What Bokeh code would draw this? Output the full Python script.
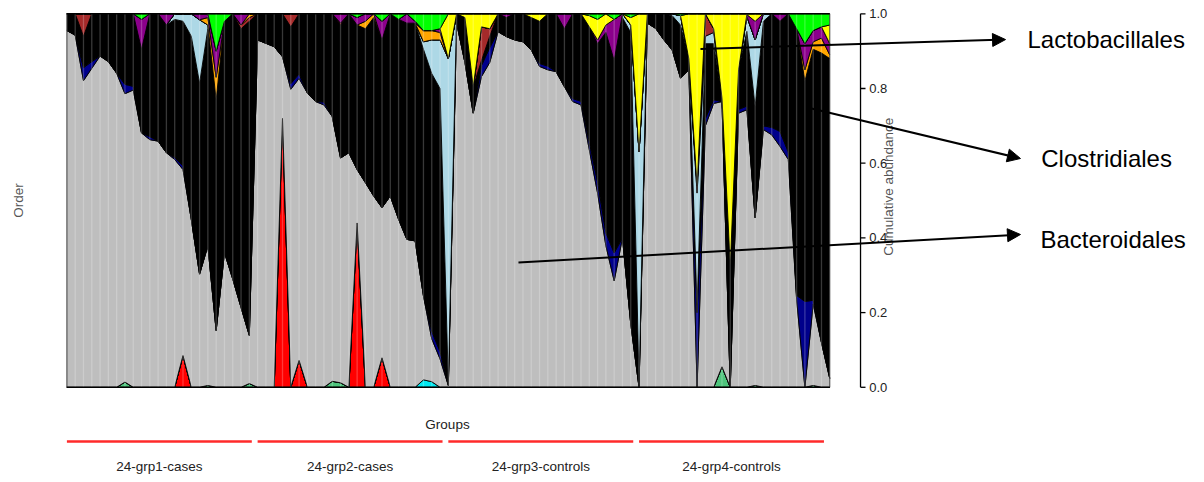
import numpy as np
from bokeh.plotting import figure
from bokeh.models import Range1d, Arrow, NormalHead
from bokeh.core.properties import value
from bokeh.embed import file_html
from bokeh.resources import INLINE

N = 93
samples = np.arange(N)
group_names = ["24-grp1-cases", "24-grp2-cases", "24-grp3-controls", "24-grp4-controls"]
group_sizes = [23, 23, 23, 24]
y_ticks = [0.0, 0.2, 0.4, 0.6, 0.8, 1.0]
y_tick_labels = ["0.0", "0.2", "0.4", "0.6", "0.8", "1.0"]
callouts = ["Lactobacillales", "Clostridiales", "Bacteroidales"]

# relative abundance per sample, by order (sparse: sample index -> value)
other_red = {14: .085, 26: .72, 28: .072, 35: .44, 38: .079}
other_seagreen = {7: .014, 17: .005, 22: .01, 32: .016, 33: .012, 79: .055, 83: .005, 90: .005}
other_cyan = {43: .02, 44: .015}
bacteroidales = [
    .955, .943, .821, .854, .887, .872, .841, .772, .796, .681,
    .663, .659, .628, .61, .498, .45, .303, .374, .152, .361,
    .29, .214, .129, .93, .921, .912, .165, .798, .755, .788,
    .765, .756, .709, .602, .628, .143, .548, .512, .402, .512,
    .45, .396, .392, .225, .115, .076, .005, .975, .87, .734,
    .832, .87, .952, .939, .93, .925, .903, .859, .85, .845,
    .805, .765, .756, .636, .52, .379, .285, .40, .17, 0.0,
    .975, .961, .93, .903, .828, .85, 0.0, .70, .76, .71,
    0.0, .734, .743, .449, .69, .676, .645, .61, .236, 0.0,
    .218, .12, .024]
other_blue = {2: .035, 3: .018, 7: .025, 8: .01, 10: .008, 13: .005, 14: .01,
              27: .015, 28: .012, 31: .008, 44: .02, 45: .02, 50: .03, 51: .04,
              57: .008, 58: .01, 61: .008, 62: .01, 63: .02, 64: .03, 65: .035,
              66: .075, 76: .2, 77: .02, 78: .01, 81: .01, 82: .01, 84: .01,
              85: .02, 86: .04, 87: .02, 88: .01, 89: .23, 90: .01}
clostridiales = [
    .045, .057, .084, .128, .113, .128, .159, .189, .194, .224,
    .329, .341, .342, .37, .387, .49, .511, .581, .618, .619,
    .71, .746, .841, .07, .079, .088, .115, .152, .161, .212,
    .235, .236, .275, .356, .372, .387, .412, .478, .449, .488,
    .535, .579, .583, .66, .69, .704, .01, .025, .12, .07,
    .013, .03, .048, .051, .07, .075, .087, .113, .14, .155,
    .155, .227, .234, .309, .37, .536, .515, .59, .78, .02,
    .025, .039, .07, .092, .142, .03, .02, .2, .15, .01,
    .325, .106, .2, .298, .28, .304, .295, .37, .714, .59,
    .672, .775, .856]
other_lightblue = {13: .015, 14: .02, 15: .06, 16: .17, 17: .01, 43: .02, 44: .09,
                   45: .13, 46: .865, 67: .01, 68: .02, 69: .61, 73: .005, 74: .025,
                   76: .3, 77: .02, 78: .03, 82: .04, 83: .178, 84: .02}
other_brown = {2: .06, 21: .01, 22: .01, 27: .035, 33: .005, 50: .09, 51: .02,
               76: .02, 77: .06, 78: .01}
other_orange = {17: .02, 18: .06, 22: .01, 36: .02, 37: .01, 43: .03, 44: .025,
                45: .02, 89: .03, 90: .02, 91: .04, 92: .01}
other_purple = {9: .08, 12: .03, 16: .016, 17: .01, 18: .07, 21: .03, 33: .025,
                35: .02, 36: .02, 38: .05, 41: .025, 42: .005, 45: .01, 53: .01,
                60: .04, 64: .01, 65: .02, 66: .11, 82: .005, 83: .05, 86: .02,
                89: .07, 90: .03, 91: .03, 92: .03}
lactobacillales = {46: .12, 48: .01, 49: .196, 50: .035, 51: .04, 56: .01, 57: .02,
                   63: .03, 64: .055, 65: .03, 68: .02, 69: .37, 75: .12, 76: .46,
                   78: .04, 79: .225, 80: .675, 81: .15, 82: .002, 83: .02, 92: .05}
other_green = {9: .015, 18: .10, 19: .02, 35: .01, 38: .02, 40: .015, 42: .02,
               43: .045, 44: .045, 45: .04, 63: .005, 64: .015, 66: .015, 68: .01,
               74: .005, 88: .04, 89: .08, 90: .045, 91: .035, 92: .03}


def dense(v):
    if isinstance(v, dict):
        out = np.zeros(N)
        for k, val in v.items():
            out[k] = val
        return out
    return np.asarray(v, dtype=float)


layers = [
    (other_red, "#FF0000"),
    (other_seagreen, "#4EC47C"),
    (other_cyan, "#00E8F0"),
    (bacteroidales, "#BEBEBE"),
    (other_blue, "#00008B"),
    (clostridiales, "#000000"),
    (other_lightblue, "#ADD8E6"),
    (other_brown, "#A52A2A"),
    (other_orange, "#FFA500"),
    (other_purple, "#8B008B"),
    (lactobacillales, "#FFFF00"),
    (other_green, "#00FF00"),
]

p = figure(width=1200, height=478,
           x_range=Range1d(-8.008, 136.71), y_range=Range1d(-0.2442, 1.0356),
           output_backend="svg", toolbar_location=None, min_border=0,
           x_axis_location=None, y_axis_location=None, outline_line_color=None)
p.grid.visible = False
p.background_fill_color = "white"

xs_fwd = list(samples)
xs_poly = xs_fwd + xs_fwd[::-1]
bottom = np.zeros(N)
for vals, col in layers:
    top = bottom + dense(vals)
    p.patch(xs_poly, list(top) + list(bottom[::-1]), fill_color=col,
            line_color="black", line_width=0.9)
    bottom = top

# faint per-sample separators
p.segment(x0=samples, y0=0, x1=samples, y1=1, line_color="white",
          line_alpha=0.22, line_width=1.3)
p.line([0, N - 1], [1, 1], line_color="black", line_width=1.6)
p.line([0, N - 1], [0, 0], line_color="black", line_width=1.4)

# right axis (R style, detached)
FONT = value("Liberation Sans")
ax_x = 95.71
p.segment(x0=[ax_x], y0=[0], x1=[ax_x], y1=[1], line_color="black", line_width=1.3)
p.segment(x0=[ax_x] * 6, y0=y_ticks, x1=[ax_x + 0.6] * 6, y1=y_ticks,
          line_color="black", line_width=1.3)
p.text(x=[ax_x + 1.05] * 6, y=y_ticks, text=y_tick_labels, text_font=FONT,
       text_font_size="13px", text_align="left", text_baseline="middle",
       text_color="#222222")
p.text(x=[99.1], y=[0.537], text=["Cumulative abundance"], angle=np.pi / 2,
       text_font=FONT, text_font_size="13.5px", text_align="center",
       text_baseline="middle", text_color="#555555")
p.text(x=[-5.84], y=[0.5], text=["Order"], angle=np.pi / 2, text_font=FONT,
       text_font_size="13.5px", text_align="center", text_baseline="middle",
       text_color="#555555")

# group bar
starts = np.cumsum([0] + group_sizes[:-1])
seg_x0 = [s for s in starts]
seg_x1 = [s + 22.3 for s in starts]
p.segment(x0=seg_x0, y0=[-0.1451] * 4, x1=seg_x1, y1=[-0.1451] * 4,
          line_color="#FF2A2A", line_width=2.6)
p.text(x=[(a + b) / 2 for a, b in zip(seg_x0, seg_x1)], y=[-0.212] * 4,
       text=group_names, text_font=FONT, text_font_size="13.5px",
       text_align="center", text_baseline="middle", text_color="#222222")
p.text(x=[45.9], y=[-0.0996], text=["Groups"], text_font=FONT,
       text_font_size="13.5px", text_align="center", text_baseline="middle",
       text_color="#222222")

# call-out arrows and labels
arrows = [((76.41, 0.9058), (113.2, 0.931)),
          ((89.8, 0.7464), (115.0, 0.6126)),
          ((54.46, 0.3341), (115.0, 0.4091))]
for (x0, y0), (x1, y1) in arrows:
    p.add_layout(Arrow(end=NormalHead(size=13, fill_color="black", line_color="black"),
                       x_start=x0, y_start=y0, x_end=x1, y_end=y1,
                       line_color="black", line_width=2))
p.text(x=[115.84, 117.5, 117.4], y=[0.931, 0.6126, 0.3957], text=callouts,
       text_font=FONT, text_font_size="24px", text_align="left",
       text_baseline="middle", text_color="black")

open("out.html", "w").write(file_html(p, INLINE))
